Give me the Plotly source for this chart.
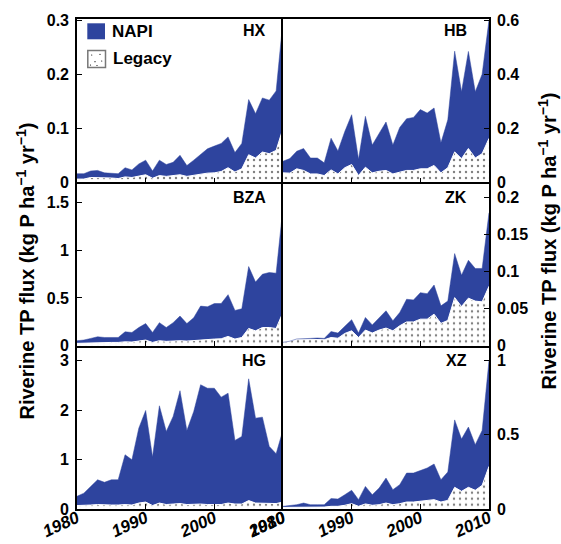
import plotly.graph_objects as go
from plotly.subplots import make_subplots

years = list(range(1980, 2011))

HX_total = [0.016, 0.016, 0.021, 0.022, 0.0175, 0.017, 0.016, 0.027, 0.023, 0.034, 0.041,
            0.021, 0.041, 0.033, 0.037, 0.050, 0.031, 0.041, 0.051, 0.062, 0.067,
            0.072, 0.084, 0.055, 0.072, 0.153, 0.127, 0.156, 0.152, 0.169, 0.300]
HX_legacy = [0.006, 0.006, 0.009, 0.009, 0.008, 0.008, 0.007, 0.010, 0.009, 0.012, 0.014,
             0.0075, 0.0125, 0.011, 0.012, 0.014, 0.011, 0.013, 0.016, 0.017, 0.0175,
             0.020, 0.027, 0.019, 0.025, 0.051, 0.045, 0.056, 0.053, 0.059, 0.100]

HB_total = [0.078, 0.088, 0.115, 0.125, 0.090, 0.090, 0.072, 0.163, 0.116, 0.188, 0.250,
            0.085, 0.244, 0.138, 0.181, 0.223, 0.138, 0.203, 0.235, 0.240, 0.269,
            0.256, 0.275, 0.146, 0.231, 0.485, 0.335, 0.484, 0.335, 0.400, 0.600]
HB_legacy = [0.035, 0.034, 0.050, 0.044, 0.031, 0.031, 0.025, 0.046, 0.031, 0.054, 0.066,
             0.025, 0.056, 0.035, 0.041, 0.044, 0.031, 0.0375, 0.044, 0.044, 0.050,
             0.050, 0.0625, 0.035, 0.054, 0.1125, 0.0875, 0.125, 0.090, 0.106, 0.1625]

BZA_total = [0.052, 0.059, 0.076, 0.093, 0.086, 0.086, 0.086, 0.145, 0.138, 0.190, 0.231,
             0.138, 0.241, 0.190, 0.241, 0.310, 0.231, 0.293, 0.414, 0.407, 0.441,
             0.441, 0.534, 0.369, 0.386, 0.828, 0.666, 0.748, 0.766, 0.759, 1.450]
BZA_legacy = [0.024, 0.026, 0.034, 0.036, 0.034, 0.034, 0.034, 0.040, 0.038, 0.045, 0.059,
              0.034, 0.052, 0.045, 0.050, 0.052, 0.048, 0.055, 0.062, 0.064, 0.069,
              0.072, 0.097, 0.069, 0.086, 0.180, 0.155, 0.190, 0.190, 0.180, 0.350]

ZK_total = [0.0045, 0.006, 0.009, 0.0098, 0.0098, 0.0103, 0.0098, 0.019, 0.017, 0.026, 0.035,
            0.017, 0.038, 0.028, 0.038, 0.047, 0.0335, 0.0446, 0.0625, 0.0616, 0.0714,
            0.070, 0.0817, 0.0536, 0.060, 0.124, 0.095, 0.115, 0.104, 0.104, 0.179]
ZK_legacy = [0.0045, 0.006, 0.009, 0.009, 0.009, 0.009, 0.008, 0.011, 0.010, 0.0165, 0.020,
             0.011, 0.021, 0.017, 0.021, 0.0237, 0.020, 0.0268, 0.032, 0.032, 0.0357,
             0.0357, 0.0424, 0.030, 0.034, 0.0647, 0.0527, 0.064, 0.060, 0.059, 0.080]

HG_total = [0.256, 0.320, 0.457, 0.590, 0.540, 0.590, 0.590, 1.096, 0.995, 1.634, 1.990,
            1.050, 2.085, 1.567, 1.870, 2.390, 1.587, 1.970, 2.510, 2.440, 2.440,
            2.260, 2.340, 1.385, 1.466, 2.630, 1.836, 1.856, 1.264, 1.116, 1.600]
HG_legacy = [0.07, 0.07, 0.08, 0.09, 0.08, 0.08, 0.08, 0.09, 0.08, 0.12, 0.14,
             0.07, 0.12, 0.09, 0.10, 0.11, 0.09, 0.10, 0.10, 0.09, 0.09,
             0.09, 0.12, 0.10, 0.10, 0.17, 0.12, 0.12, 0.11, 0.11, 0.14]

XZ_total = [0.018, 0.022, 0.029, 0.040, 0.029, 0.029, 0.029, 0.070, 0.067, 0.096, 0.126,
            0.063, 0.152, 0.096, 0.141, 0.208, 0.130, 0.164, 0.242, 0.242, 0.258,
            0.276, 0.303, 0.197, 0.249, 0.600, 0.471, 0.552, 0.433, 0.529, 1.000]
XZ_legacy = [0.011, 0.011, 0.013, 0.013, 0.013, 0.013, 0.013, 0.018, 0.018, 0.025, 0.036,
             0.018, 0.034, 0.025, 0.029, 0.040, 0.029, 0.036, 0.047, 0.047, 0.052,
             0.056, 0.063, 0.047, 0.058, 0.146, 0.119, 0.146, 0.126, 0.159, 0.287]

x_ticks = [1980, 1990, 2000, 2010]
series_names = ["NAPI", "Legacy"]

BLUE = "#2E449E"
FONT = "Liberation Sans"

# plot area in page pixels
PX0, PY0, PW, PH = 77, 19, 412, 490


def px(x):
    return (x - PX0) / PW


def py(y):
    return (PY0 + PH - y) / PH


fig = make_subplots(rows=3, cols=2, horizontal_spacing=0, vertical_spacing=0)

panels = [
    ("HX", HX_total, HX_legacy, 1, 1, [0, 0.302], 0.1),
    ("HB", HB_total, HB_legacy, 1, 2, [0, 0.604], 0.2),
    ("BZA", BZA_total, BZA_legacy, 2, 1, [0, 1.71], 0.5),
    ("ZK", ZK_total, ZK_legacy, 2, 2, [0, 0.22], 0.05),
    ("HG", HG_total, HG_legacy, 3, 1, [0, 3.3], 1),
    ("XZ", XZ_total, XZ_legacy, 3, 2, [0, 1.1], 0.5),
]

pattern = dict(shape=".", fgcolor="black", bgcolor="white", size=6, solidity=0.12)
LW = 1.6

for name, tot, leg, r, c, rng, dt in panels:
    fig.add_trace(go.Scatter(x=years, y=leg, mode="lines", name=series_names[1],
                             line=dict(color="white", width=1),
                             fill="tozeroy", fillpattern=pattern,
                             showlegend=False, hoverinfo="skip"), row=r, col=c)
    fig.add_trace(go.Scatter(x=years, y=tot, mode="lines", name=series_names[0],
                             line=dict(color=BLUE, width=0.5),
                             fill="tonexty", fillcolor=BLUE,
                             showlegend=False, hoverinfo="skip"), row=r, col=c)
    fig.update_xaxes(range=[1980, 2010], tickvals=x_ticks, ticks="inside", ticklen=5,
                     tickwidth=1.2, tickcolor="black", automargin=False,
                     showline=True, mirror=(r == 1), linecolor="black", linewidth=LW,
                     showgrid=False, zeroline=False,
                     showticklabels=(r == 3), tickangle=-25, ticklabelstandoff=-9,
                     tickfont=dict(family=FONT, size=17, color="black", weight="bold",
                                   style="italic"),
                     row=r, col=c)
    fig.update_yaxes(range=rng, dtick=dt, tick0=0, ticks="inside", ticklen=5,
                     tickwidth=1.2, tickcolor="black", automargin=False,
                     side=("left" if c == 1 else "right"),
                     showline=True, mirror=(c == 2), linecolor="black", linewidth=LW,
                     showgrid=False, zeroline=False, ticklabelstandoff=3,
                     tickfont=dict(family=FONT, size=16, color="black", weight="bold"),
                     row=r, col=c)

# manual legend
fig.add_shape(type="rect", xref="paper", yref="paper",
              x0=px(87.3), x1=px(105), y0=py(39.3), y1=py(23.3),
              fillcolor=BLUE, line=dict(width=0))
fig.add_shape(type="rect", xref="paper", yref="paper",
              x0=px(87.8), x1=px(105.5), y0=py(67.5), y1=py(50.5),
              fillcolor="white", line=dict(color="#777777", width=1.5))
for dx, dy in [(91.7, 55), (100, 54.3), (95, 61.7), (101.7, 61), (90.5, 65), (97, 65.5)]:
    fig.add_shape(type="circle", xref="paper", yref="paper",
                  x0=px(dx - 0.6), x1=px(dx + 0.6), y0=py(dy + 0.6), y1=py(dy - 0.6),
                  fillcolor="black", line=dict(width=0))
fig.add_annotation(x=px(109.5), y=py(31.3), xref="paper", yref="paper", text=series_names[0],
                   showarrow=False, xanchor="left", yanchor="middle",
                   font=dict(family=FONT, size=17, color="black", weight="bold"))
fig.add_annotation(x=px(110.5), y=py(58.5), xref="paper", yref="paper", text=series_names[1],
                   showarrow=False, xanchor="left", yanchor="middle",
                   font=dict(family=FONT, size=17, color="black", weight="bold"))

labels = {"HX": (268, 31), "HB": (469, 31), "BZA": (268, 197),
          "ZK": (469, 197), "HG": (268, 360), "XZ": (469, 360)}
for k, (lx, ly) in labels.items():
    fig.add_annotation(x=px(lx), y=py(ly), xref="paper", yref="paper", text=k, showarrow=False,
                       xanchor="right", yanchor="middle",
                       font=dict(family=FONT, size=16, color="black", weight="bold"))

ytitle = "Riverine TP flux (kg P ha<sup>−1</sup> yr<sup>−1</sup>)"
fig.add_annotation(x=px(25), y=py(271.5), xref="paper", yref="paper", text=ytitle,
                   showarrow=False, textangle=-90, xanchor="center", yanchor="middle",
                   font=dict(family=FONT, size=20, color="black", weight="bold"))
fig.add_annotation(x=px(547), y=py(241.5), xref="paper", yref="paper", text=ytitle,
                   showarrow=False, textangle=-90, xanchor="center", yanchor="middle",
                   font=dict(family=FONT, size=20, color="black", weight="bold"))

fig.update_layout(
    width=561, height=544,
    margin=dict(l=77, r=72, t=19, b=35, autoexpand=False),
    paper_bgcolor="white", plot_bgcolor="white",
    showlegend=False,
)

fig.write_html("out.html", config={"displayModeBar": False},
               post_script="document.body.style.margin='0';document.body.style.overflow='hidden';")
